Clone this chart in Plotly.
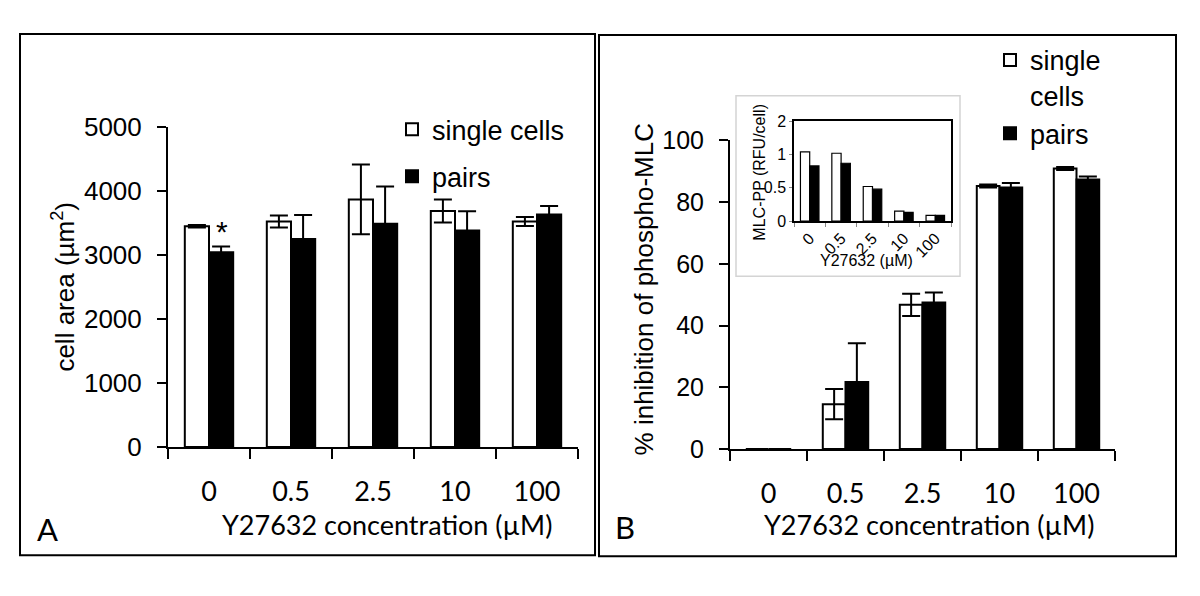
import plotly.graph_objects as go

# ---------------- data ----------------
conc = ["0", "0.5", "2.5", "10", "100"]

# Panel A: cell area (µm²)
area_single = [3450, 3525, 3870, 3690, 3525]
area_single_err = [20, 95, 545, 180, 70]
area_pairs = [3045, 3250, 3490, 3385, 3635]
area_pairs_err = [90, 375, 580, 300, 130]

# Panel B: % inhibition of phospho-MLC
inhib_single = [0, 14.5, 46.7, 85.2, 90.9]
inhib_single_err = [None, 4.9, 3.6, 0.5, 0.5]
inhib_pairs = [0, 21.7, 47.5, 84.7, 87.3]
inhib_pairs_err = [None, 12.6, 3.2, 1.5, 1.0]

# Inset: MLC-PP (RFU/cell)
mlc_single = [1.04, 1.02, 0.52, 0.15, 0.086]
mlc_pairs = [0.83, 0.87, 0.48, 0.13, 0.086]

inset_tickvals = [0, 0.5, 1, 1.5]
inset_ticktext = ["0", "0.5", "1", "2"]

# ---------------- helpers ----------------
W, H = 1200, 596
def px(x):
    return x / W
def py(y):
    return 1 - y / H

ARIAL = "Liberation Sans, Arial, sans-serif"
MYRIAD = "Lato, Liberation Sans, sans-serif"

fig = go.Figure()

def bar(x, y, err, fill, name, xa, ya, legend=None, lw=2, showlegend=True, ew=9):
    return go.Bar(
        x=x, y=y, name=name,
        marker=dict(color=fill, line=dict(color="black", width=lw)),
        error_y=(dict(type="data", array=err, color="black", thickness=2, width=ew)
                 if err is not None else None),
        xaxis=xa, yaxis=ya,
        legend=legend, legendgroup=name + (legend or ""),
        showlegend=showlegend,
    )

# Panel A
fig.add_trace(bar(conc, area_single, area_single_err, "white", "single cells", "x", "y", "legend"))
fig.add_trace(bar(conc, area_pairs, area_pairs_err, "black", "pairs", "x", "y", "legend"))
# Panel B
fig.add_trace(bar(conc, inhib_single, inhib_single_err, "white", "single<br>cells", "x2", "y2", "legend2"))
fig.add_trace(bar(conc, inhib_pairs, inhib_pairs_err, "black", "pairs", "x2", "y2", "legend2"))
# Inset
fig.add_trace(bar(conc, mlc_single, None, "white", "single cells (inset)", "x3", "y3", lw=1.2, showlegend=False))
fig.add_trace(bar(conc, mlc_pairs, None, "black", "pairs (inset)", "x3", "y3", lw=1.2, showlegend=False))

common_x = dict(type="category", showline=True, linewidth=2, linecolor="black",
                ticks="outside", tickson="boundaries", ticklen=10, tickwidth=2,
                tickcolor="black", showgrid=False, zeroline=False,
                range=[-0.5, 4.5], fixedrange=True)
common_y = dict(showline=True, linewidth=2, linecolor="black", ticks="outside",
                ticklen=9, tickwidth=2, tickcolor="black", showgrid=False,
                zeroline=False, fixedrange=True)

fig.update_layout(
    width=W, height=H,
    margin=dict(l=0, r=0, t=0, b=0),
    paper_bgcolor="white", plot_bgcolor="rgba(0,0,0,0)",
    barmode="group", bargap=0.41, bargroupgap=0,
    font=dict(family=ARIAL, color="black", size=26),
    xaxis=dict(common_x, domain=[px(168), px(578)], anchor="y",
               tickfont=dict(family=MYRIAD, size=27), ticklabelstandoff=20),
    yaxis=dict(common_y, domain=[py(455), py(118)], anchor="x", range=[0, 5000],
               dtick=1000, tickfont=dict(family=ARIAL, size=26), ticklabelstandoff=10),
    xaxis2=dict(common_x, domain=[px(730), px(1115)], anchor="y2",
                tickfont=dict(family=MYRIAD, size=27), ticklabelstandoff=20),
    yaxis2=dict(common_y, domain=[py(457), py(132)], anchor="x2", range=[0, 100],
                dtick=20, tickfont=dict(family=ARIAL, size=25), ticklabelstandoff=10),
    xaxis3=dict(type="category", domain=[px(794), px(951)], anchor="y3",
                showline=True, mirror=True, linewidth=1.5, linecolor="black",
                ticks="outside", tickson="boundaries", ticklen=4, tickwidth=1,
                tickcolor="#888", tickangle=-45, range=[-0.5, 4.5],
                tickfont=dict(family=ARIAL, size=16), showgrid=False, zeroline=False,
                fixedrange=True),
    yaxis3=dict(domain=[py(217), py(112)], anchor="x3", range=[0, 1.5],
                tickvals=inset_tickvals, ticktext=inset_ticktext,
                showline=True, mirror=True, linewidth=1.5, linecolor="black",
                ticks="outside", ticklen=3, tickwidth=1, tickcolor="#888",
                tickfont=dict(family=ARIAL, size=16), showgrid=False, zeroline=False,
                fixedrange=True),
    legend=dict(x=px(392), y=py(95), xanchor="left", yanchor="top",
                font=dict(family=ARIAL, size=27), bgcolor="rgba(0,0,0,0)",
                traceorder="grouped", tracegroupgap=9, itemwidth=30, valign="middle"),
    legend2=dict(x=px(990), y=py(22), xanchor="left", yanchor="top",
                 font=dict(family=ARIAL, size=27), bgcolor="rgba(0,0,0,0)",
                 traceorder="grouped", tracegroupgap=0, itemwidth=30, valign="top"),
)

shapes = [
    # panel frames
    dict(type="rect", xref="paper", yref="paper", x0=px(20), x1=px(595), y0=py(569), y1=py(20),
         line=dict(color="black", width=2), fillcolor="rgba(0,0,0,0)", layer="above"),
    dict(type="rect", xref="paper", yref="paper", x0=px(599), x1=px(1176), y0=py(570), y1=py(21),
         line=dict(color="black", width=2), fillcolor="rgba(0,0,0,0)", layer="above"),
    # inset background box
    dict(type="rect", xref="paper", yref="paper", x0=px(736), x1=px(960), y0=py(275), y1=py(85),
         line=dict(color="#d4d4d4", width=1.5), fillcolor="white", layer="below"),
]
fig.update_layout(shapes=shapes)

ann = [
    dict(text="Y27632 concentration (µM)", x=px(387), y=py(537), font=dict(family=MYRIAD, size=27)),
    dict(text="Y27632 concentration (µM)", x=px(929), y=py(537), font=dict(family=MYRIAD, size=27)),
    dict(text="cell area (µm<sup>2</sup>)", x=px(64), y=py(286), textangle=-90,
         font=dict(family=ARIAL, size=26)),
    dict(text="% inhibition of phospho-MLC", x=px(644), y=py(289), textangle=-90,
         font=dict(family=ARIAL, size=26)),
    dict(text="A", x=px(47), y=py(541), font=dict(family=MYRIAD, size=31)),
    dict(text="B", x=px(625), y=py(539), font=dict(family=MYRIAD, size=31)),
    dict(text="MLC-PP (RFU/cell)", x=px(760), y=py(166), textangle=-90,
         font=dict(family=ARIAL, size=16)),
    dict(text="Y27632 (µM)", x=px(866), y=py(259), font=dict(family=ARIAL, size=16)),
]
annotations = []
for a in ann:
    a.update(xref="paper", yref="paper", showarrow=False, xanchor="center", yanchor="middle")
    annotations.append(a)
# significance asterisk above the pairs bar at 0 µM
annotations.append(dict(text="*", x=conc[0], y=area_pairs[0] + 330, xref="x", yref="y",
                        xshift=13, showarrow=False, font=dict(family=ARIAL, size=30),
                        xanchor="center", yanchor="middle"))
fig.update_layout(annotations=annotations)

fig.write_html("out.html", config={"displayModeBar": False},
               post_script="document.body.style.margin='0';document.body.style.overflow='hidden';")
